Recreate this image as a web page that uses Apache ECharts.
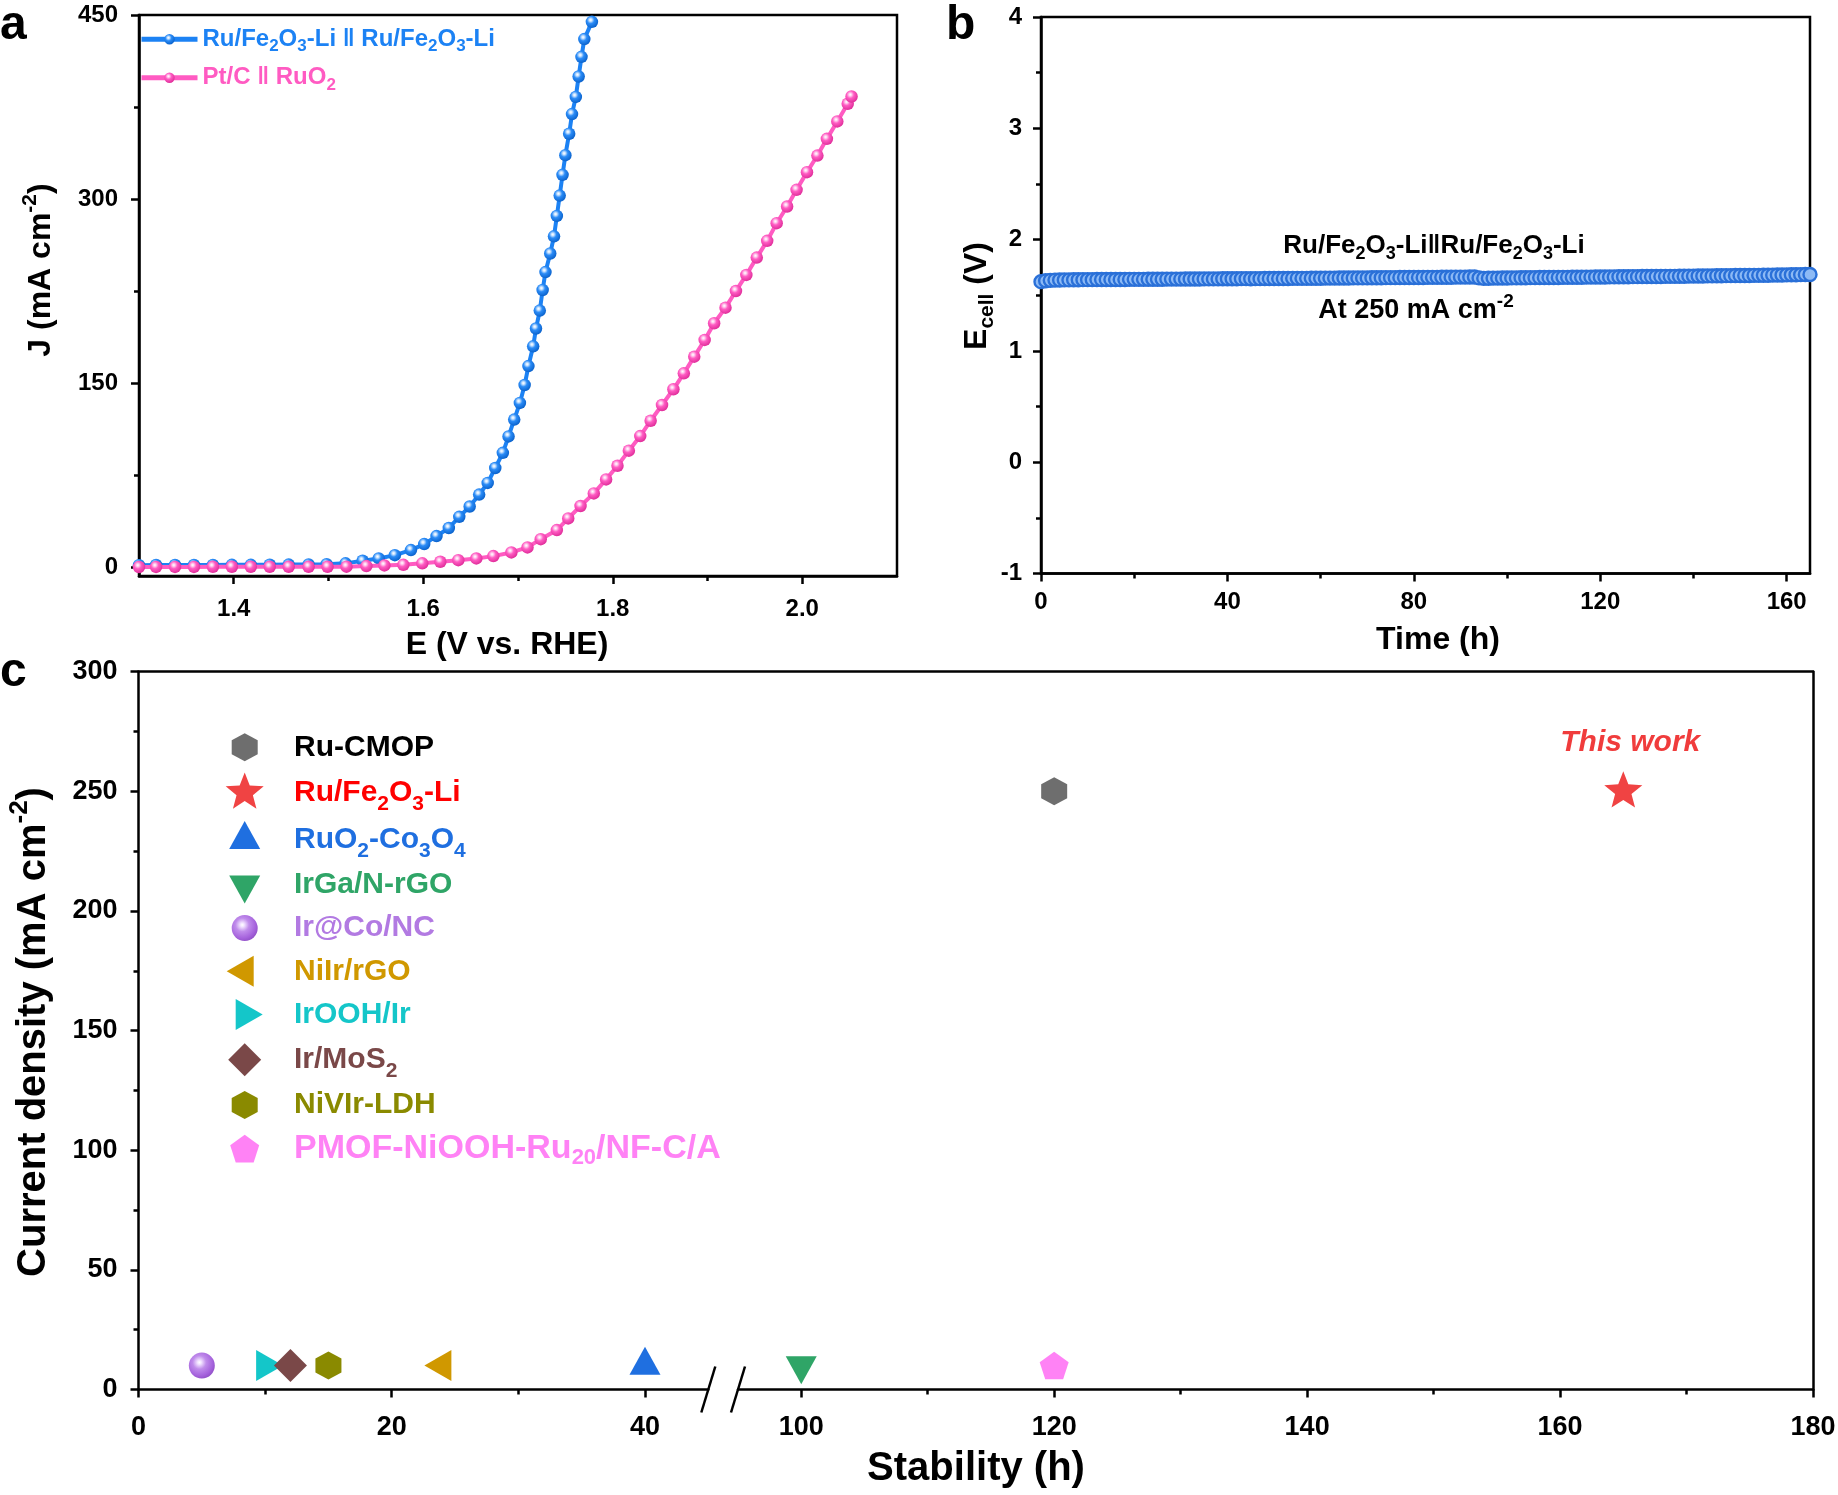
<!DOCTYPE html>
<html>
<head>
<meta charset="utf-8">
<script src="https://cdn.jsdelivr.net/npm/echarts@6.0.0/dist/echarts.min.js"></script>
<style>
html,body{margin:0;padding:0;background:#ffffff;}
#chart{width:1838px;height:1495px;}
</style>
</head>
<body>
<div id="chart"></div>
<script>
// ================= DATA =================
// Panel a: polarization curves (E vs RHE in V, J in mA cm-2)
const lsvPotentialRu = [1.300, 1.318, 1.338, 1.358, 1.378, 1.398, 1.418, 1.438, 1.458, 1.479, 1.498,
  1.518, 1.536, 1.553, 1.570, 1.587, 1.601, 1.614,
  1.627, 1.638, 1.649, 1.659, 1.668, 1.676, 1.684, 1.690, 1.696, 1.702, 1.707, 1.711, 1.716, 1.719,
  1.723, 1.726, 1.729, 1.734, 1.738, 1.741, 1.744, 1.747, 1.750, 1.754, 1.757, 1.761, 1.764, 1.767, 1.770, 1.778];
const lsvCurrentRu = [1.8, 2.0, 2.0, 2.0, 2.0, 2.1, 2.1, 2.2, 2.3, 2.4, 2.6,
  3.3, 5.4, 7.3, 10.0, 14.1, 19.0, 25.5,
  32.1, 41.2, 49.6, 59.3, 68.8, 81.0, 93.3, 106.7, 120.4, 134.0, 148.6, 164.0, 180.1, 194.6,
  209.2, 226.0, 240.6, 255.7, 269.7, 286.3, 302.9, 319.8, 335.8, 353.3, 369.3, 383.3, 399.9, 415.9, 430.4, 444.4];
const lsvPotentialPt = [1.300, 1.318, 1.338, 1.358, 1.378, 1.398, 1.418, 1.438, 1.458, 1.479, 1.499, 1.519,
  1.540, 1.559, 1.579, 1.599, 1.618, 1.637, 1.656, 1.674, 1.693, 1.710, 1.724,
  1.741, 1.753, 1.766, 1.780, 1.793, 1.805, 1.817, 1.829, 1.840, 1.852, 1.864, 1.875, 1.886, 1.897,
  1.907, 1.919, 1.930, 1.941, 1.952, 1.963, 1.973, 1.984, 1.994, 2.005, 2.016, 2.026, 2.037, 2.048, 2.052];
const lsvCurrentPt = [0.3, 0.4, 0.4, 0.4, 0.5, 0.5, 0.5, 0.5, 0.5, 0.5, 0.5, 0.6,
  1.1, 1.6, 2.1, 3.3, 4.6, 5.9, 7.3, 9.2, 12.2, 16.3, 23.0,
  30.4, 39.9, 50.0, 60.3, 71.7, 82.8, 95.1, 107.0, 119.5, 132.3, 145.1, 158.1, 171.7, 185.3,
  198.9, 211.6, 225.2, 238.3, 252.4, 266.0, 280.4, 294.0, 307.6, 322.0, 335.5, 349.1, 363.3, 377.7, 383.6];
const lsvXTicks = [1.4, 1.6, 1.8, 2.0];
const lsvXMinorTicks = [1.5, 1.7, 1.9];
const lsvYTicks = [0, 150, 300, 450];
const lsvYMinorTicks = [75, 225, 375];

// Panel b: cell voltage (V) recorded every hour
const stabilityStepHours = 1;
const cellVoltage = [
  1.622, 1.630, 1.634, 1.636, 1.637, 1.638, 1.638, 1.639, 1.639, 1.640,
  1.640, 1.640, 1.641, 1.641, 1.641, 1.642, 1.642, 1.642, 1.642, 1.643,
  1.643, 1.643, 1.643, 1.644, 1.644, 1.644, 1.644, 1.645, 1.645, 1.645,
  1.645, 1.646, 1.646, 1.646, 1.646, 1.647, 1.647, 1.647, 1.647, 1.648,
  1.648, 1.648, 1.648, 1.649, 1.649, 1.648, 1.649, 1.649, 1.650, 1.650,
  1.650, 1.651, 1.651, 1.651, 1.652, 1.652, 1.652, 1.652, 1.653, 1.653,
  1.653, 1.654, 1.654, 1.654, 1.655, 1.655, 1.655, 1.656, 1.656, 1.656,
  1.656, 1.657, 1.657, 1.657, 1.658, 1.658, 1.658, 1.659, 1.659, 1.659,
  1.660, 1.660, 1.660, 1.661, 1.661, 1.661, 1.662, 1.662, 1.662, 1.663,
  1.663, 1.663, 1.664, 1.664, 1.656, 1.652, 1.653, 1.654, 1.654, 1.655,
  1.655, 1.656, 1.656, 1.657, 1.657, 1.658, 1.658, 1.659, 1.659, 1.660,
  1.660, 1.660, 1.661, 1.661, 1.662, 1.662, 1.662, 1.663, 1.663, 1.664,
  1.664, 1.664, 1.665, 1.665, 1.666, 1.666, 1.666, 1.667, 1.667, 1.668,
  1.668, 1.668, 1.669, 1.669, 1.670, 1.670, 1.670, 1.671, 1.671, 1.672,
  1.672, 1.673, 1.673, 1.674, 1.674, 1.675, 1.675, 1.676, 1.676, 1.677,
  1.677, 1.678, 1.678, 1.679, 1.679, 1.680, 1.680, 1.681, 1.682, 1.682,
  1.683, 1.684, 1.684, 1.685, 1.686, 1.687];
const timeTicks = [0, 40, 80, 120, 160];
const timeMinorTicks = [20, 60, 100, 140];
const voltageTicks = [-1, 0, 1, 2, 3, 4];
const voltageMinorTicks = [-0.5, 0.5, 1.5, 2.5, 3.5];

// Panel c: comparison of stability (h) and current density (mA cm-2)
const catalystNames = ['Ru-CMOP', 'Ru/Fe2O3-Li', 'RuO2-Co3O4', 'IrGa/N-rGO', 'Ir@Co/NC',
  'NiIr/rGO', 'IrOOH/Ir', 'Ir/MoS2', 'NiVIr-LDH', 'PMOF-NiOOH-Ru20/NF-C/A'];
const catalystStability = [120, 165, 40, 100, 5, 24, 10, 12, 15, 120];
const catalystCurrent = [250, 250, 10, 10, 10, 10, 10, 10, 10, 10];
const stabilityTicksLeft = [0, 20, 40];
const stabilityMinorLeft = [10, 30];
const stabilityTicksRight = [100, 120, 140, 160, 180];
const stabilityMinorRight = [110, 130, 150, 170];
const currentTicks = [0, 50, 100, 150, 200, 250, 300];
const currentMinorTicks = [25, 75, 125, 175, 225, 275];
const axisBreakStart = 45;
const axisBreakEnd = 95;

// ================= STYLE =================
const FONT = "'Liberation Sans', Arial, Helvetica, sans-serif";
const BLACK = '#000000';
const AXW = 2.5;

// every symbol is drawn inside a common 40x40 frame (centre 20,20)
const FRAME = 'M0,0 M40,40 ';
const SYM = {
  hex: 'path://' + FRAME + 'M20,6 L33,13 L33,27 L20,34 L7,27 L7,13 Z',
  star: 'path://' + FRAME + 'M20,0 L25.06,13.04 L39.02,13.82 L28.18,22.66 L31.76,36.18 L20,28.6 L8.24,36.18 L11.82,22.66 L0.98,13.82 L14.94,13.04 Z',
  triUp: 'path://' + FRAME + 'M20,1.3 L35.5,29.3 L4.5,29.3 Z',
  triDown: 'path://' + FRAME + 'M4.5,10.7 L35.5,10.7 L20,38.7 Z',
  triLeft: 'path://' + FRAME + 'M29,4.5 L29,35.5 L2,20 Z',
  triRight: 'path://' + FRAME + 'M11,4.5 L38,20 L11,35.5 Z',
  diamond: 'path://' + FRAME + 'M20,3.5 L36.5,20 L20,36.5 L3.5,20 Z',
  pentagon: 'path://' + FRAME + 'M20,6.21 L34.5,16.75 L28.96,33.8 L11.04,33.8 L5.5,16.75 Z',
  ball: 'path://' + FRAME + 'M7,20 A13,13 0 1,1 33,20 A13,13 0 1,1 7,20 Z'
};

const purpleBall = {type: 'radial', x: 0.44, y: 0.42, r: 0.42,
  colorStops: [{offset: 0, color: '#ffffff'}, {offset: 0.12, color: '#f1e2ff'},
    {offset: 0.4, color: '#c08ceb'}, {offset: 0.8, color: '#a562dc'}, {offset: 1, color: '#9252c8'}]};

const catalystStyle = {
  'Ru-CMOP': {symbol: SYM.hex, color: '#6e6e6e', text: '#000000'},
  'Ru/Fe2O3-Li': {symbol: SYM.star, color: '#f04343', text: '#ff0000'},
  'RuO2-Co3O4': {symbol: SYM.triUp, color: '#1f6fe0', text: '#1f6fe0'},
  'IrGa/N-rGO': {symbol: SYM.triDown, color: '#2fa567', text: '#2fa567'},
  'Ir@Co/NC': {symbol: SYM.ball, color: purpleBall, text: '#b27ae2'},
  'NiIr/rGO': {symbol: SYM.triLeft, color: '#d09800', text: '#d09800'},
  'IrOOH/Ir': {symbol: SYM.triRight, color: '#14c6c9', text: '#14c6c9'},
  'Ir/MoS2': {symbol: SYM.diamond, color: '#7a4848', text: '#7a4848'},
  'NiVIr-LDH': {symbol: SYM.hex, color: '#8a8a00', text: '#8a8a00'},
  'PMOF-NiOOH-Ru20/NF-C/A': {symbol: SYM.pentagon, color: '#ff82f5', text: '#ff82f5'}
};
const catalystRich = {
  'Ru-CMOP': '{n|Ru-CMOP}',
  'Ru/Fe2O3-Li': '{n|Ru/Fe}{s|2}{n|O}{s|3}{n|-Li}',
  'RuO2-Co3O4': '{n|RuO}{s|2}{n|-Co}{s|3}{n|O}{s|4}',
  'IrGa/N-rGO': '{n|IrGa/N-rGO}',
  'Ir@Co/NC': '{n|Ir@Co/NC}',
  'NiIr/rGO': '{n|NiIr/rGO}',
  'IrOOH/Ir': '{n|IrOOH/Ir}',
  'Ir/MoS2': '{n|Ir/MoS}{s|2}',
  'NiVIr-LDH': '{n|NiVIr-LDH}',
  'PMOF-NiOOH-Ru20/NF-C/A': '{N|PMOF-NiOOH-Ru}{S|20}{N|/NF-C/A}'
};

const RU_NAME = 'Ru/Fe2O3-Li \u2016 Ru/Fe2O3-Li';
const PT_NAME = 'Pt/C \u2016 RuO2';
const lsvRich = {};
lsvRich[RU_NAME] = '{n|Ru/Fe}{s|2}{n|O}{s|3}{n|-Li \u2016 Ru/Fe}{s|2}{n|O}{s|3}{n|-Li}';
lsvRich[PT_NAME] = '{n|Pt/C \u2016 RuO}{s|2}';
const BLUE = '#1c82f4';
const PINK = '#ff5bc2';

function sphere(c0, c1, c2) {
  return {type: 'radial', x: 0.4, y: 0.35, r: 0.65,
    colorStops: [{offset: 0, color: '#ffffff'}, {offset: 0.16, color: c0}, {offset: 0.45, color: c1}, {offset: 1, color: c2}]};
}

function mainAxis(o) {
  const a = {
    type: 'value', gridIndex: o.grid, min: o.min, max: o.max, position: o.position,
    axisLine: {show: true, onZero: false, lineStyle: {color: BLACK, width: AXW}},
    axisTick: {show: true, inside: false, length: 8, customValues: o.ticks, lineStyle: {color: BLACK, width: AXW}},
    axisLabel: {show: true, customValues: o.ticks, margin: o.margin, fontSize: o.fontSize,
      fontWeight: 'bold', fontFamily: FONT, color: BLACK},
    splitLine: {show: false}, minorTick: {show: false}, minorSplitLine: {show: false}
  };
  if (o.formatter) a.axisLabel.formatter = o.formatter;
  return a;
}
function minorAxis(o) {
  return {
    type: 'value', gridIndex: o.grid, min: o.min, max: o.max, position: o.position,
    axisLine: {show: false, onZero: false},
    axisTick: {show: true, inside: false, length: 5, customValues: o.ticks, lineStyle: {color: BLACK, width: AXW}},
    axisLabel: {show: false},
    splitLine: {show: false}
  };
}
function lineOnlyAxis(grid, position) {
  return {
    type: 'value', gridIndex: grid, min: 0, max: 1, position: position,
    axisLine: {show: true, onZero: false, lineStyle: {color: BLACK, width: AXW}},
    axisTick: {show: false}, axisLabel: {show: false}, splitLine: {show: false}
  };
}

function richSet(n, s, sPad, p, pPad, lh) {
  return {
    n: {fontSize: n, fontWeight: 'bold', fontFamily: FONT, lineHeight: lh, verticalAlign: 'middle'},
    s: {fontSize: s, fontWeight: 'bold', fontFamily: FONT, lineHeight: lh, verticalAlign: 'middle', padding: [sPad, 0, 0, 0]},
    p: {fontSize: p, fontWeight: 'bold', fontFamily: FONT, lineHeight: lh, verticalAlign: 'middle', padding: [0, 0, pPad, 0]}
  };
}
const legendCRich = richSet(30, 21, 23, 21, 20, 34);
legendCRich.N = {fontSize: 34, fontWeight: 'bold', fontFamily: FONT, lineHeight: 30, verticalAlign: 'middle'};
legendCRich.S = {fontSize: 22, fontWeight: 'bold', fontFamily: FONT, lineHeight: 30, verticalAlign: 'middle', padding: [19, 0, 0, 0]};

// ================= SERIES =================
const series = [];
series.push({
  name: RU_NAME, type: 'line', xAxisIndex: 0, yAxisIndex: 0,
  data: lsvPotentialRu.map((v, i) => [v, lsvCurrentRu[i]]),
  symbol: 'circle', symbolSize: 12.5, showAllSymbol: true, clip: true,
  lineStyle: {color: BLUE, width: 4},
  itemStyle: {color: sphere('#cfe6ff', '#2b8cf7', '#0a62cc')},
  emphasis: {disabled: true}, z: 3
});
series.push({
  name: PT_NAME, type: 'line', xAxisIndex: 0, yAxisIndex: 0,
  data: lsvPotentialPt.map((v, i) => [v, lsvCurrentPt[i]]),
  symbol: 'circle', symbolSize: 12.5, showAllSymbol: true, clip: true,
  lineStyle: {color: PINK, width: 4},
  itemStyle: {color: sphere('#ffd3f0', '#ff5cc3', '#e02e9a')},
  emphasis: {disabled: true}, z: 4
});
series.push({
  name: 'cell', type: 'line', xAxisIndex: 2, yAxisIndex: 2,
  data: cellVoltage.map((v, i) => [i * stabilityStepHours, v]),
  symbol: 'circle', symbolSize: 13, showAllSymbol: true,
  lineStyle: {color: '#2a70d8', width: 3},
  itemStyle: {color: '#8dbaf5', borderColor: '#2a70d8', borderWidth: 2.4},
  emphasis: {disabled: true}
});
catalystNames.forEach((name, i) => {
  const x = catalystStability[i];
  const onRight = x >= axisBreakEnd;
  const st = catalystStyle[name];
  const s = {
    name: name, type: 'scatter',
    xAxisIndex: onRight ? 6 : 4, yAxisIndex: onRight ? 6 : 4,
    data: [[x, catalystCurrent[i]]],
    symbol: st.symbol, symbolSize: 40,
    itemStyle: {color: st.color, opacity: 1},
    emphasis: {disabled: true}, z: 5
  };
  if (name === 'Ru/Fe2O3-Li') {
    s.label = {show: true, position: 'top', distance: 14, offset: [7, 0], formatter: 'This work',
      color: '#f03c3c', fontSize: 30, fontWeight: 'bold', fontStyle: 'italic', fontFamily: FONT};
  }
  series.push(s);
});

// ================= OPTION =================
const option = {
  animation: false,
  backgroundColor: '#ffffff',
  grid: [
    {left: 139, top: 15, width: 758, height: 561, show: true, borderColor: BLACK, borderWidth: AXW, outerBoundsMode: 'none'},
    {left: 1041, top: 17, width: 769, height: 556.5, show: true, borderColor: BLACK, borderWidth: AXW, outerBoundsMode: 'none'},
    {left: 138.5, top: 671.7, width: 569.8, height: 717.8, outerBoundsMode: 'none'},
    {left: 738, top: 671.7, width: 1075, height: 717.8, outerBoundsMode: 'none'},
    {left: 138.5, top: 671.7, width: 1674.5, height: 717.8, outerBoundsMode: 'none'}
  ],
  xAxis: [
    mainAxis({grid: 0, min: 1.3, max: 2.1, position: 'bottom', ticks: lsvXTicks, margin: 21, fontSize: 24,
      formatter: v => Number(v).toFixed(1)}),
    minorAxis({grid: 0, min: 1.3, max: 2.1, position: 'bottom', ticks: lsvXMinorTicks}),
    mainAxis({grid: 1, min: 0, max: 165, position: 'bottom', ticks: timeTicks, margin: 17, fontSize: 24}),
    minorAxis({grid: 1, min: 0, max: 165, position: 'bottom', ticks: timeMinorTicks}),
    mainAxis({grid: 2, min: 0, max: axisBreakStart, position: 'bottom', ticks: stabilityTicksLeft, margin: 25, fontSize: 27}),
    minorAxis({grid: 2, min: 0, max: axisBreakStart, position: 'bottom', ticks: stabilityMinorLeft}),
    mainAxis({grid: 3, min: axisBreakEnd, max: 180, position: 'bottom', ticks: stabilityTicksRight, margin: 25, fontSize: 27}),
    minorAxis({grid: 3, min: axisBreakEnd, max: 180, position: 'bottom', ticks: stabilityMinorRight}),
    lineOnlyAxis(4, 'top')
  ],
  yAxis: [
    mainAxis({grid: 0, min: -7, max: 450, position: 'left', ticks: lsvYTicks, margin: 21, fontSize: 24}),
    minorAxis({grid: 0, min: -7, max: 450, position: 'left', ticks: lsvYMinorTicks}),
    mainAxis({grid: 1, min: -1, max: 4, position: 'left', ticks: voltageTicks, margin: 19, fontSize: 24}),
    minorAxis({grid: 1, min: -1, max: 4, position: 'left', ticks: voltageMinorTicks}),
    mainAxis({grid: 2, min: 0, max: 300, position: 'left', ticks: currentTicks, margin: 21, fontSize: 27}),
    minorAxis({grid: 2, min: 0, max: 300, position: 'left', ticks: currentMinorTicks}),
    {type: 'value', gridIndex: 3, min: 0, max: 300, show: false},
    lineOnlyAxis(4, 'right')
  ],
  legend: [
    {
      data: [{name: RU_NAME, textStyle: {color: BLUE}}, {name: PT_NAME, textStyle: {color: PINK}}],
      orient: 'vertical', left: 139, top: 23.3, padding: 0,
      itemWidth: 56, itemHeight: 13, itemGap: 6.5, selectedMode: false,
      lineStyle: {width: 5},
      formatter: name => lsvRich[name],
      textStyle: {fontSize: 24, fontWeight: 'bold', fontFamily: FONT, rich: richSet(24, 17, 15, 17, 15, 28)}
    },
    {
      data: catalystNames.map(n => ({name: n, textStyle: {color: catalystStyle[n].text}})),
      orient: 'vertical', left: 224.7, top: 727.3, padding: 0,
      itemWidth: 88.6, itemHeight: 40, itemGap: 3.2, selectedMode: false, symbolKeepAspect: true,
      formatter: name => catalystRich[name],
      textStyle: {fontSize: 30, fontWeight: 'bold', fontFamily: FONT, rich: legendCRich}
    }
  ],
  series: series
};

const chart = echarts.init(document.getElementById('chart'), null, {renderer: 'canvas'});
chart.setOption(option);

// ================= ANNOTATIONS =================
function gText(x, y, text, rich, opts) {
  opts = opts || {};
  return {
    type: 'text', x: x, y: y, rotation: opts.rotation || 0, z: 100, silent: true,
    style: {text: text, rich: rich, fill: opts.color || BLACK, align: opts.align || 'center', verticalAlign: 'middle',
      fontSize: opts.fontSize || 32, fontWeight: opts.fontWeight || 'bold', fontFamily: FONT}
  };
}
const titleRich = richSet(32, 21, 20, 21, 22, 38);
const bigRich = richSet(40, 26, 22, 26, 28, 46);
const annRich1 = richSet(26, 18, 16, 18, 18, 30);
const annRich2 = richSet(27, 18, 16, 19, 19, 30);

const pBreakL = chart.convertToPixel({xAxisIndex: 4, yAxisIndex: 4}, [axisBreakStart, 0]);
const pBreakR = chart.convertToPixel({xAxisIndex: 6, yAxisIndex: 6}, [axisBreakEnd, 0]);
function slash(p) {
  return {type: 'line', z: 100, silent: true,
    shape: {x1: p[0] + 7, y1: p[1] - 23, x2: p[0] - 7, y2: p[1] + 23},
    style: {stroke: BLACK, lineWidth: AXW}};
}

chart.setOption({
  graphic: [
    gText(0, 25.4, 'a', null, {fontSize: 48, align: 'left'}),
    gText(946, 25.4, 'b', null, {fontSize: 48, align: 'left'}),
    gText(0, 672.7, 'c', null, {fontSize: 48, align: 'left'}),
    gText(507, 645, '{n|E (V vs. RHE)}', titleRich),
    gText(41, 270, '{n|J (mA cm}{p|-2}{n|)}', titleRich, {rotation: Math.PI / 2}),
    gText(1438, 640, '{n|Time (h)}', titleRich),
    gText(977, 296, '{n|E}{s|cell}{n| (V)}', titleRich, {rotation: Math.PI / 2}),
    gText(976, 1469, '{n|Stability (h)}', bigRich),
    gText(34, 1032, '{n|Current density (mA cm}{p|-2}{n|)}', bigRich, {rotation: Math.PI / 2}),
    gText(1434, 246, '{n|Ru/Fe}{s|2}{n|O}{s|3}{n|-Li\u2016Ru/Fe}{s|2}{n|O}{s|3}{n|-Li}', annRich1),
    gText(1416, 311, '{n|At 250 mA cm}{p|-2}', annRich2),
    slash(pBreakL),
    slash(pBreakR)
  ]
});
</script>
</body>
</html>
